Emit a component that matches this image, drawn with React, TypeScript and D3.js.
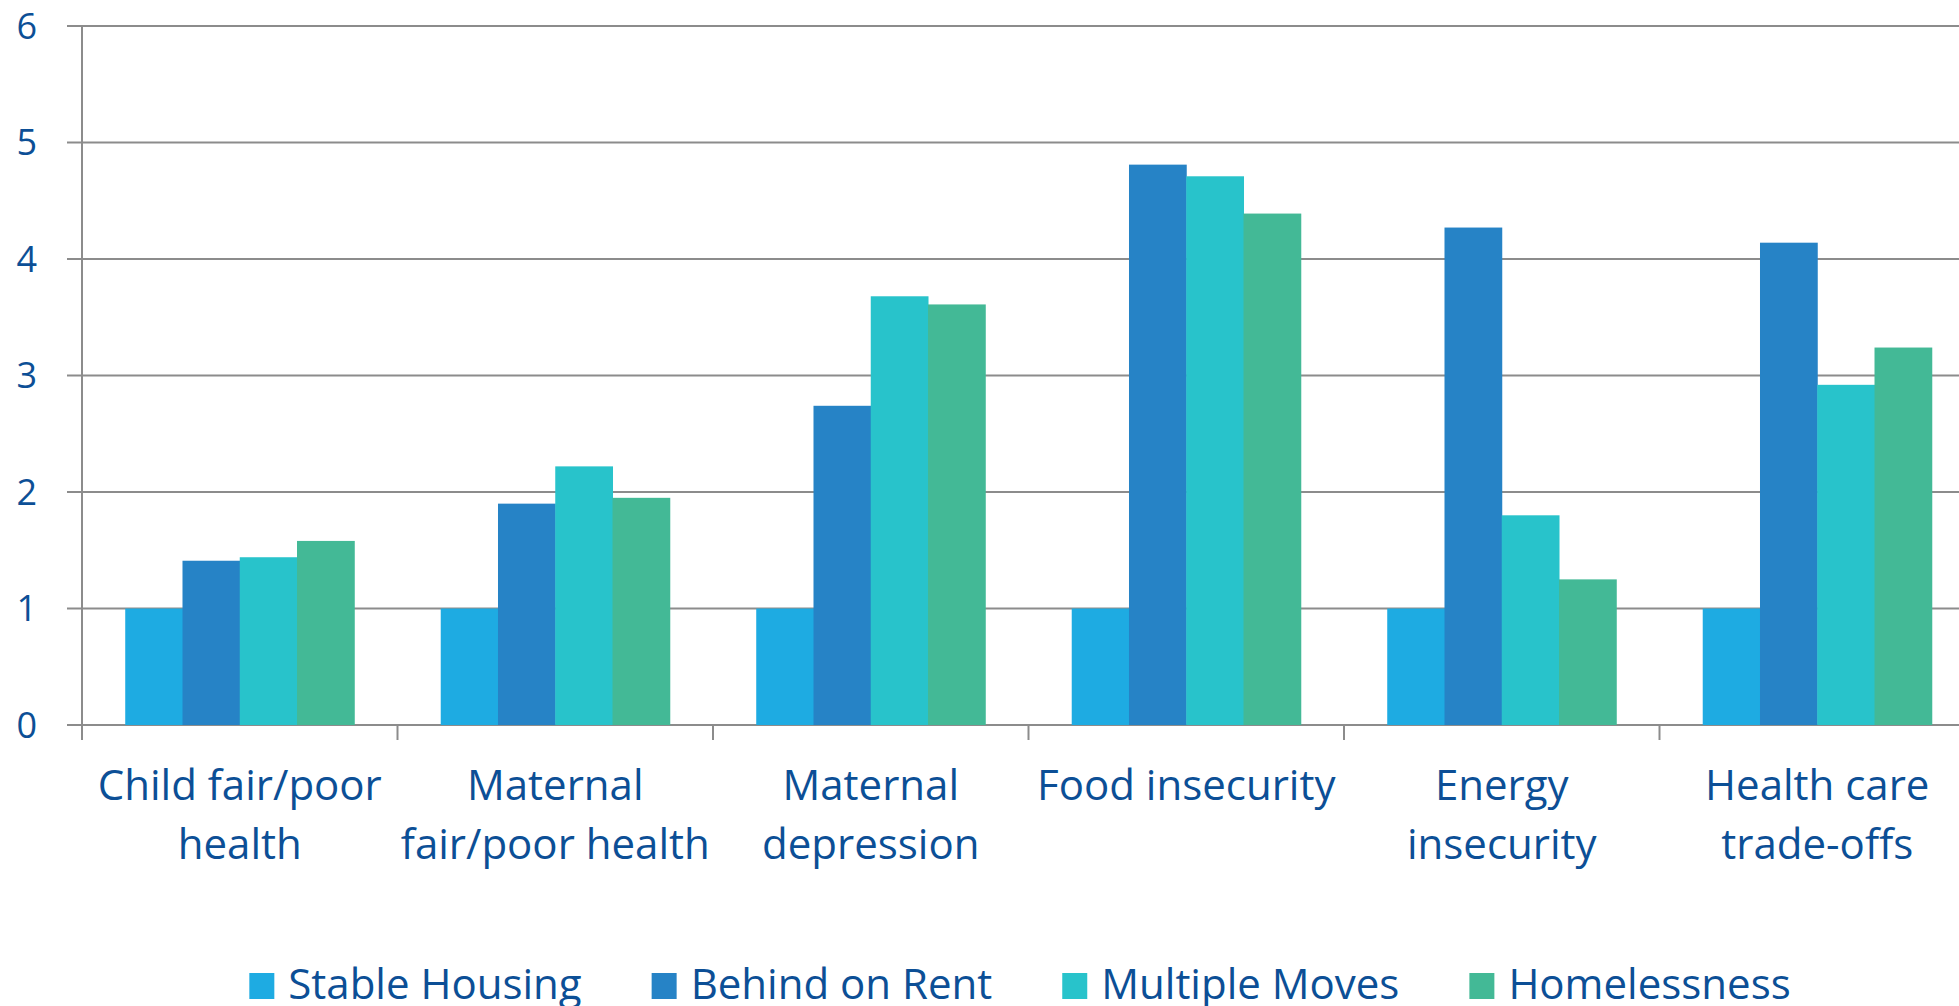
import { useEffect, useRef } from "react";
import * as d3 from "d3";

const categories = [
  "Child fair/poor health",
  "Maternal fair/poor health",
  "Maternal depression",
  "Food insecurity",
  "Energy insecurity",
  "Health care trade-offs",
];
const categoryLines = [
  ["Child fair/poor", "health"],
  ["Maternal", "fair/poor health"],
  ["Maternal", "depression"],
  ["Food insecurity"],
  ["Energy", "insecurity"],
  ["Health care", "trade-offs"],
];
const seriesNames = ["Stable Housing", "Behind on Rent", "Multiple Moves", "Homelessness"];
const stableHousing = [1, 1, 1, 1, 1, 1];
const behindOnRent = [1.41, 1.9, 2.74, 4.81, 4.27, 4.14];
const multipleMoves = [1.44, 2.22, 3.68, 4.71, 1.8, 2.92];
const homelessness = [1.58, 1.95, 3.61, 4.39, 1.25, 3.24];
const yTicks = [0, 1, 2, 3, 4, 5, 6];

const colors = ["#1eabe2", "#2683c6", "#28c3cb", "#43b996"];
const textColor = "#0c4f96";
const gridColor = "#8c8c8c";
const font = "'Open Sans', 'Noto Sans', sans-serif";

export default function App() {
  const svgRef = useRef<SVGSVGElement>(null);

  useEffect(() => {
    if (!svgRef.current) return;
    const svg = d3.select(svgRef.current);
    svg.selectAll("*").remove();

    const width = 1959;
    const margin = { top: 26, left: 82 };
    const step = 315.5;
    const plotBottom = 725;

    const series = [stableHousing, behindOnRent, multipleMoves, homelessness];

    const x0 = d3.scaleBand<string>()
      .domain(categories)
      .range([margin.left, margin.left + step * categories.length])
      .padding(0);

    const x1 = d3.scaleBand<string>()
      .domain(seriesNames)
      .range([0, x0.bandwidth()])
      .paddingInner(0)
      .paddingOuter(0.755);

    const y = d3.scaleLinear().domain([0, 6]).range([plotBottom, margin.top]);

    // gridlines with outward ticks
    svg.append("g")
      .selectAll("line")
      .data(yTicks)
      .enter()
      .append("line")
      .attr("x1", margin.left - 15)
      .attr("x2", width)
      .attr("y1", (d) => y(d))
      .attr("y2", (d) => y(d))
      .style("stroke", gridColor)
      .style("stroke-width", 2);

    // y axis line
    svg.append("line")
      .attr("x1", margin.left)
      .attr("x2", margin.left)
      .attr("y1", y(6))
      .attr("y2", plotBottom + 15)
      .style("stroke", gridColor)
      .style("stroke-width", 2);

    // category ticks
    const boundaries = categories.map((c) => x0(c)!).concat([x0.range()[1]]);
    svg.append("g")
      .selectAll("line")
      .data(boundaries)
      .enter()
      .append("line")
      .attr("x1", (d) => d)
      .attr("x2", (d) => d)
      .attr("y1", plotBottom)
      .attr("y2", plotBottom + 15)
      .style("stroke", gridColor)
      .style("stroke-width", 2);

    // bars
    const groups = svg.append("g")
      .selectAll("g")
      .data(categories)
      .enter()
      .append("g")
      .attr("transform", (c) => `translate(${x0(c)},0)`);

    groups.selectAll("rect")
      .data((_c, i) => seriesNames.map((s, k) => ({ s, k, v: series[k][i] })))
      .enter()
      .append("rect")
      .attr("x", (d) => x1(d.s)!)
      .attr("width", x1.bandwidth() + 0.5)
      .attr("y", (d) => y(d.v))
      .attr("height", (d) => plotBottom - y(d.v))
      .style("fill", (d) => colors[d.k]);

    // y tick labels
    svg.append("g")
      .selectAll("text")
      .data(yTicks)
      .enter()
      .append("text")
      .attr("x", 37)
      .attr("y", (d) => y(d))
      .attr("dy", "0.357em")
      .attr("text-anchor", "end")
      .style("font-family", font)
      .style("font-size", "36px")
      .style("fill", textColor)
      .text((d) => d);

    // category labels
    categories.forEach((c, i) => {
      const t = svg.append("text")
        .attr("text-anchor", "middle")
        .style("font-family", font)
        .style("font-size", "42px")
        .style("fill", textColor);
      categoryLines[i].forEach((line, j) => {
        t.append("tspan")
          .attr("x", x0(c)! + x0.bandwidth() / 2)
          .attr("y", 800 + j * 59)
          .text(line);
      });
    });

    // legend
    const legend = svg.append("g");
    const items = seriesNames.map((name, k) => {
      const g = legend.append("g");
      g.append("rect")
        .attr("x", 0)
        .attr("y", 973)
        .attr("width", 25)
        .attr("height", 26)
        .style("fill", colors[k]);
      const txt = g.append("text")
        .attr("x", 39)
        .attr("y", 999)
        .style("font-family", font)
        .style("font-size", "42px")
        .style("fill", textColor)
        .text(name);
      const w = 39 + (txt.node() as SVGTextElement).getComputedTextLength();
      return { g, w };
    });
    const gap = 70;
    const total = d3.sum(items, (d) => d.w) + gap * (items.length - 1);
    let cx = 1020 - total / 2;
    items.forEach((it) => {
      it.g.attr("transform", `translate(${cx},0)`);
      cx += it.w + gap;
    });
  }, []);

  return (
    <svg
      ref={svgRef}
      width={1959}
      height={1006}
      style={{ position: "absolute", left: 0, top: 0, background: "#fff" }}
    />
  );
}
